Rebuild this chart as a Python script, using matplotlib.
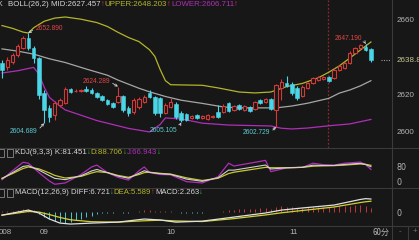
import numpy as np
import matplotlib
matplotlib.use('Agg')
import matplotlib.pyplot as plt
from matplotlib import font_manager as fm
from matplotlib.patches import Rectangle
from matplotlib.lines import Line2D

# ---------------- data (60-minute candles) ----------------
opens = [2637.0, 2634.8, 2637.5, 2641.2, 2645.0, 2650.3, 2645.0, 2639.6, 2620.9, 2612.9,
         2609.1, 2614.5, 2615.5, 2623.0, 2621.7, 2621.8, 2623.0, 2622.5, 2620.9, 2619.3,
         2617.1, 2615.5, 2616.1, 2619.3, 2612.9, 2610.7, 2613.4, 2616.1, 2620.9, 2618.7,
         2618.2, 2610.2, 2613.4, 2615.0, 2610.2, 2609.6, 2607.5, 2609.1, 2607.5, 2607.0,
         2607.8, 2610.7, 2610.7, 2615.5, 2611.8, 2614.5, 2611.8, 2613.4, 2612.3, 2617.1,
         2616.1, 2617.7, 2611.8, 2623.6, 2626.2, 2625.7, 2623.6, 2619.3, 2623.6, 2626.2,
         2627.9, 2628.4, 2629.5, 2628.9, 2633.2, 2634.3, 2637.0, 2642.3, 2645.0, 2645.5,
         2644.5]
closes = [2633.2, 2638.6, 2641.2, 2646.1, 2650.3, 2645.0, 2639.6, 2619.8, 2611.8, 2608.0,
          2615.5, 2617.1, 2623.0, 2621.4, 2622.2, 2622.3, 2622.0, 2620.9, 2618.7, 2617.1,
          2615.0, 2613.4, 2619.3, 2611.8, 2610.2, 2617.1, 2617.7, 2618.7, 2618.7, 2610.2,
          2610.2, 2614.5, 2616.1, 2608.0, 2606.4, 2606.4, 2608.6, 2607.5, 2608.6, 2609.1,
          2608.3, 2608.0, 2613.9, 2611.2, 2613.9, 2612.3, 2613.9, 2611.2, 2616.1, 2615.5,
          2617.7, 2612.3, 2625.2, 2626.8, 2624.6, 2620.9, 2618.2, 2624.1, 2626.2, 2628.9,
          2629.5, 2629.2, 2627.3, 2633.2, 2635.4, 2637.0, 2642.3, 2645.0, 2646.6, 2643.9,
          2638.8]
highs = [2638.6, 2640.2, 2642.3, 2647.1, 2651.4, 2652.89, 2646.1, 2640.2, 2622.5, 2614.5,
         2616.6, 2618.2, 2624.1, 2623.6, 2623.0, 2623.2, 2624.6, 2623.3, 2621.4, 2619.8,
         2617.7, 2616.1, 2624.289, 2620.0, 2613.9, 2618.0, 2618.7, 2619.6, 2622.5, 2619.3,
         2618.7, 2615.5, 2618.2, 2616.1, 2611.0, 2610.2, 2609.3, 2609.6, 2609.1, 2609.8,
         2609.1, 2614.5, 2614.8, 2616.1, 2614.5, 2615.0, 2614.5, 2614.0, 2616.6, 2617.7,
         2618.2, 2618.2, 2625.7, 2628.4, 2630.0, 2626.8, 2624.6, 2625.2, 2626.8, 2629.5,
         2630.0, 2630.0, 2630.0, 2634.0, 2636.0, 2637.5, 2643.4, 2645.5, 2646.9, 2647.19,
         2645.0]
lows = [2628.9, 2633.2, 2636.4, 2640.2, 2644.5, 2643.9, 2637.0, 2617.7, 2604.689, 2605.4,
        2606.4, 2613.4, 2615.0, 2620.9, 2621.4, 2621.2, 2621.4, 2620.3, 2618.0, 2616.6,
        2614.2, 2612.6, 2615.5, 2610.5, 2608.6, 2609.6, 2612.4, 2615.5, 2618.2, 2609.1,
        2608.0, 2609.6, 2612.9, 2607.0, 2605.105, 2605.9, 2607.0, 2607.0, 2607.0, 2606.4,
        2607.3, 2607.5, 2610.2, 2610.5, 2611.0, 2611.8, 2611.2, 2610.5, 2611.8, 2615.0,
        2615.5, 2611.8, 2602.729, 2617.1, 2624.1, 2620.0, 2617.1, 2618.7, 2623.0, 2625.7,
        2627.3, 2628.0, 2626.8, 2628.4, 2632.7, 2633.8, 2636.4, 2641.8, 2644.5, 2643.4,
        2637.5]

# BOLL(26,2) bands, read at candle indices
upper_idx = [0, 2, 4, 5, 6, 8, 10, 12, 15, 18, 20, 22, 24, 26, 28, 29, 30, 31, 32, 34,
             38, 41, 45, 48, 51, 54, 57, 60, 62, 64, 66, 68, 70]
upper_val = [2657.0, 2655.5, 2653.5, 2653.0, 2655.8, 2659.3, 2661.0, 2661.6, 2660.4, 2658.6,
             2656.5, 2653.4, 2650.6, 2648.4, 2644.0, 2640.5, 2633.5, 2627.5, 2625.3, 2625.2,
             2625.0, 2623.6, 2621.4, 2620.9, 2621.4, 2624.3, 2626.0, 2629.0, 2632.0, 2635.4,
             2639.6, 2643.9, 2648.203]
mid_idx = [0, 3, 6, 9, 12, 16, 20, 22, 26, 28, 31, 34, 38, 42, 45, 52, 55, 58, 62, 64,
           66, 68, 70]
mid_val = [2644.5, 2643.3, 2641.7, 2639.2, 2637.2, 2633.7, 2630.4, 2627.8, 2623.4, 2621.5,
           2619.0, 2617.0, 2615.3, 2613.4, 2612.9, 2612.9, 2613.9, 2615.4, 2618.0, 2620.8,
           2622.5, 2624.7, 2627.457]
lower_idx = [0, 3, 6, 7, 8, 9, 11, 12, 18, 24, 28, 30, 31, 34, 38, 43, 51, 53, 55, 58,
             62, 66, 70]
lower_val = [2631.6, 2632.8, 2634.6, 2631.0, 2624.0, 2618.5, 2613.9, 2611.8, 2606.1, 2601.9,
             2600.0, 2604.0, 2607.5, 2607.0, 2604.7, 2603.7, 2603.2, 2602.0, 2601.6, 2602.1,
             2603.3, 2604.3, 2606.711]

# KDJ(9,3,3): D and J, K = (J + 2D) / 3
kdj_idx = [0, 2, 4, 5, 7, 9, 10, 12, 15, 17, 18, 20, 22, 24, 26, 27, 28, 30, 32, 35,
           38, 41, 43, 44, 47, 50, 51, 54, 57, 59, 61, 63, 65, 67, 68, 69, 70]
kdj_j = [12, 60, 105, 100, 50, 5, -12, -5, 40, 80, 90, 50, 25, 10, 60, 80, 50, 40, 38, 2,
         -5, 28, 100, 85, 100, 115, 55, 75, 78, 100, 92, 90, 100, 104, 106, 92, 66.943]
kdj_d = [20, 45, 72, 80, 70, 48, 35, 21, 30, 48, 55, 50, 35, 25, 40, 50, 52, 46, 42, 22,
         8, 20, 45, 52, 65, 78, 76, 76, 78, 84, 86, 87, 90, 94, 96, 94, 88.706]

# MACD(12,26,9)
macd_idx = [0, 3, 5, 7, 9, 11, 13, 17, 22, 27, 30, 33, 38, 44, 50, 53, 57, 63, 68, 69, 70]
diff_val = [-1.6, 0.0, 1.0, -0.5, -3.6, -5.7, -6.2, -5.7, -5.2, -3.6, -4.1, -5.2, -4.7,
            -2.6, -0.5, 1.0, 2.1, 3.6, 6.5, 6.9, 6.721]
dea_val = [-1.6, -0.5, 0.3, 0.0, -1.3, -2.8, -4.0, -5.0, -5.2, -4.5, -4.2, -4.6, -4.9,
           -3.4, -1.5, -0.4, 0.8, 2.6, 4.9, 5.3, 5.589]
macd_hist = [0.3, 0.4, 0.6, 0.9, 1.5, 1.8, 1.2, -0.8, -2.5, -3.8,
             -4.8, -5.3, -5.5, -5.0, -4.3, -3.5, -2.6, -1.8, -1.0, -0.5,
             -0.3, -0.4, -0.2, -0.4, -0.5, 0.2, 0.5, 0.8, 1.0, 0.7,
             0.4, 0.3, 0.3, -0.2, -0.4, -0.5, -0.4, -0.3, -0.3, -0.2,
             -0.1, 0.2, 0.6, 0.9, 1.2, 1.4, 1.5, 1.6, 1.8, 1.9,
             2.0, 1.8, 2.6, 3.0, 2.8, 2.5, 2.2, 2.3, 2.4, 2.6,
             2.7, 2.6, 2.5, 2.7, 2.9, 3.1, 3.3, 3.4, 3.4, 3.0,
             2.263]

# extreme-value annotations: (candle index, 'high'/'low')
marks = [(5, 'high'), (8, 'low'), (22, 'high'), (34, 'low'), (52, 'low'), (69, 'high')]

date_labels = ['008', '09', '10', '11']
price_ticks = [2600, 2620, 2660]
kdj_ticks = [0, 80]
day_split = 61.8

# ---------------- style ----------------
BG = '#171717'
RED = '#d03a3a'
CYAN = '#4ad6e6'
YEL = '#b4b42a'
MAG = '#b02eb8'
MIDC = '#a6a6a6'
WHITE = '#d6d6d6'
LBL = '#b4b4b4'
GREEN = '#2fbf3a'
SEP = '#3a3a3a'


def pick(names):
    for n in names:
        try:
            fm.findfont(fm.FontProperties(family=n), fallback_to_default=False)
            return n
        except Exception:
            pass
    return 'DejaVu Sans'


FONT = pick(['Liberation Sans Narrow', 'Liberation Sans', 'Arial'])
FAM = [FONT, 'DejaVu Sans']

W, H = 419, 240
fig = plt.figure(figsize=(W / 100, H / 100), dpi=100, facecolor=BG)
renderer = fig.canvas.get_renderer()


def fx(p):
    return p / W


def fy(p):
    return 1 - p / H


def fit_size(s, target):
    t = fig.text(0, 0, s, fontsize=10, family=FAM)
    w = t.get_window_extent(renderer).width
    t.remove()
    return 10 * target / w


def header(x0, x1, y, parts):
    texts = []
    total = 0
    for s, c in parts:
        t = fig.text(0, fy(y), s, fontsize=10, color=c, family=FAM, va='center', ha='left')
        total += t.get_window_extent(renderer).width
        texts.append(t)
    size = 10 * (x1 - x0) / total
    x = x0
    for t in texts:
        t.set_fontsize(size)
        t.set_x(fx(x))
        x += t.get_window_extent(renderer).width


n = len(opens)
xi = np.arange(n)
o = np.array(opens); c = np.array(closes); hi = np.array(highs); lo = np.array(lows)
up = c >= o

XL = (-0.38, 74.0)
ax = fig.add_axes([0, fy(148), fx(392), 148 / H])
axk = fig.add_axes([0, fy(188), fx(392), 40 / H])
axm = fig.add_axes([0, fy(226), fx(392), 38 / H])

tick_size = fit_size('2660', 18)
for a in (ax, axk, axm):
    a.set_facecolor(BG)
    for s in a.spines.values():
        s.set_visible(False)
    a.set_xlim(*XL)
    a.set_xticks([])
    a.yaxis.tick_right()
    a.tick_params(axis='y', length=0, pad=3, labelsize=tick_size, labelcolor=LBL)

# ---- main panel ----
ax.set_ylim(2591.4, 2670.7)
ax.plot(upper_idx, upper_val, color=YEL, lw=0.9, zorder=1)
ax.plot(mid_idx, mid_val, color=MIDC, lw=0.9, zorder=1)
ax.plot(lower_idx, lower_val, color=MAG, lw=0.9, zorder=1)
ax.axvline(day_split, color='#8a2a2a', lw=0.9, ls=(0, (1.5, 1.5)), zorder=0.5)

cols = np.where(up, RED, CYAN)
ax.vlines(xi, lo, hi, colors=cols, lw=0.8, zorder=2)
bh = np.maximum(np.abs(c - o), 0.3)
bl = np.minimum(o, c)
ax.bar(xi[up], bh[up], bottom=bl[up], width=0.62, facecolor=BG, edgecolor=RED, lw=0.8, zorder=3)
ax.bar(xi[~up], bh[~up], bottom=bl[~up], width=0.7, facecolor=CYAN, edgecolor=CYAN, lw=0.4, zorder=3)

ticks = sorted(price_ticks + [closes[-1]])
ax.set_yticks(ticks)
ax.set_yticklabels([('%.1f' % t if t == closes[-1] else '%d' % t) for t in ticks])
for lab in ax.get_yticklabels():
    lab.set_family(FAM)
    if lab.get_text() == '%.1f' % closes[-1]:
        lab.set_color('#c8c890')
ax.plot([71.9, 73.6], [closes[-1]] * 2, ls=(0, (1, 1.2)), color='#9a9a9a', lw=0.8, clip_on=False)

ann_size = fit_size('2652.890', 28)
offsets = {5: (7, 5), 8: (-7, -8), 22: (-8, 5), 34: (-4, -8), 52: (-6, -6), 69: (-3, 5)}
for idx, kind in marks:
    val = highs[idx] if kind == 'high' else lows[idx]
    dx, dy = offsets[idx]
    col = '#e04646' if kind == 'high' else '#5cccd4'
    ha = 'left' if dx > 0 else 'right'
    ax.annotate('%.3f' % val, xy=(idx, val), xytext=(dx, dy), textcoords='offset pixels',
                ha=ha, va='center', color=col, fontsize=ann_size, family=FAM,
                arrowprops=dict(arrowstyle='->', color='#d0d0d0', lw=0.6, shrinkA=0,
                                shrinkB=0, mutation_scale=4,
                                relpos=(0, 0.5) if dx > 0 else (1, 0.5)), zorder=5)

# ---- KDJ panel ----
kd = np.array(kdj_d, float); kj = np.array(kdj_j, float)
kk = (kj + 2 * kd) / 3
axk.set_ylim(-32, 181)
axk.plot(kdj_idx, kj, color=MAG, lw=0.9)
axk.plot(kdj_idx, kd, color='#c8c830', lw=0.9)
axk.plot(kdj_idx, kk, color='#d0d0d0', lw=0.8)
axk.set_yticks(kdj_ticks)
axk.set_yticklabels([str(t) for t in kdj_ticks])

# ---- MACD panel ----
axm.set_ylim(-7.2, 12.4)
hist = np.array(macd_hist)
axm.vlines(xi, 0, hist, colors=np.where(hist >= 0, '#c23838', '#4cc8d0'), lw=0.7)
axm.plot(macd_idx, dea_val, color='#d0d030', lw=0.9)
axm.plot(macd_idx, diff_val, color='#e0e0e0', lw=0.9)
axm.set_yticks([0])
axm.set_yticklabels(['0'])

# ---- separators ----
for yy in (148, 188, 226):
    fig.add_artist(Line2D([0, 1], [fy(yy), fy(yy)], color=SEP, lw=0.8, transform=fig.transFigure))
fig.add_artist(Line2D([fx(392), fx(392)], [0, 1], color=SEP, lw=0.8, transform=fig.transFigure))
fig.add_artist(Line2D([fx(408), fx(408)], [0, fy(226)], color=SEP, lw=0.8, transform=fig.transFigure))

# ---- headers ----
fig.text(fx(-3), fy(5), 'K', color=WHITE, fontsize=ann_size * 1.05, family=FAM, va='center')
header(8, 237, 5, [('BOLL(26,2) MID:2627.457', WHITE), ('↑', RED), ('UPPER:2648.203', YEL),
                   ('↑', RED), ('LOWER:2606.711', MAG), ('↑', RED)])
header(15, 160, 153, [('KDJ(9,3,3) K:81.451', WHITE), ('↓', GREEN), ('D:88.706', YEL),
                      ('↓', GREEN), ('J:66.943', MAG), ('↓', GREEN)])
header(15, 204, 193, [('MACD(12,26,9) DIFF:6.721', WHITE), ('↓', GREEN), ('DEA:5.589', YEL),
                      ('↑', RED), ('MACD:2.263', WHITE), ('↓', GREEN)])
for yy in (153, 193):
    for bx in (-2, 7):
        fig.add_artist(Rectangle((fx(bx), fy(yy + 4)), 6 / W, 8 / H, transform=fig.transFigure,
                                 fill=False, ec='#8a8a8a', lw=0.6))

# ---- date strip ----
fig.text(fx(-1), fy(232), date_labels[0], color=LBL, fontsize=tick_size, family=FAM, va='center', ha='left')
for s, px in zip(date_labels[1:], (44, 170.5, 293.5)):
    fig.text(fx(px), fy(232), s, color=LBL, fontsize=tick_size, family=FAM, va='center', ha='center')
fig.text(fx(381), fy(232), '60分', color=LBL, fontsize=tick_size,
         family=['Noto Sans CJK SC', 'DejaVu Sans'], va='center', ha='center')
fig.text(fx(400), fy(232), '-', color='#707070', fontsize=tick_size, family=FAM, va='center', ha='center')
fig.text(fx(415), fy(232), '+', color='#707070', fontsize=tick_size, family=FAM, va='center', ha='center')

fig.savefig('out.png', dpi=100, facecolor=BG)
